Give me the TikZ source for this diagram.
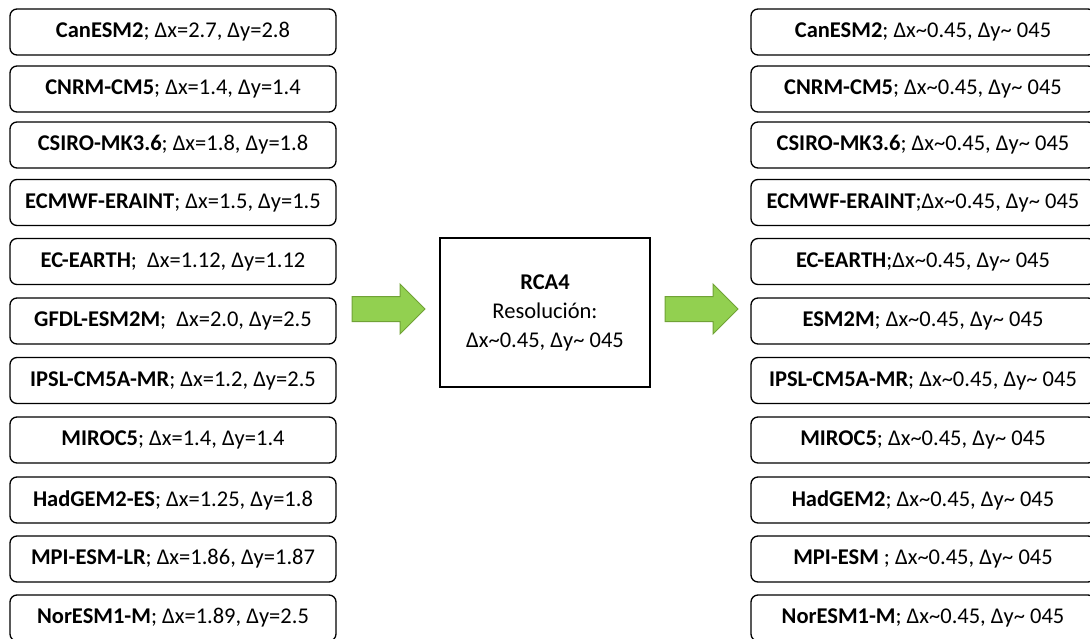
\documentclass[tikz,border=0pt]{standalone}
\usepackage{fontspec}
\setmainfont{Carlito}
\newcommand{\tld}{\char"007E\relax}
\definecolor{agreen}{HTML}{92D050}
\definecolor{agreenline}{HTML}{70A236}
\begin{document}
\begin{tikzpicture}[x=1pt,y=-1pt,
  box/.style={draw=black,line width=1.3pt,rounded corners=7pt,minimum height=46pt,inner sep=0pt,font=\fontsize{22.5}{27}\selectfont,text=black},
  lbox/.style={box,minimum width=326pt},
  rbox/.style={box,minimum width=344pt},
  cbox/.style={draw=black,line width=1.3pt,minimum width=210pt,minimum height=149pt,align=center,font=\fontsize{22.5}{29}\selectfont},
  blockarrow/.style={fill=agreen,draw=agreenline,line width=1pt,line join=miter}]
\useasboundingbox (0,0) rectangle (1090,639);
\clip (0,0) rectangle (1090,639);
% left column
\node[lbox] (l1) at (173,32) {\textbf{CanESM2}; Δx=2.7, Δy=2.8};
\node[lbox] (l2) at (173,89) {\textbf{CNRM-CM5}; Δx=1.4, Δy=1.4};
\node[lbox] (l3) at (173,145) {\textbf{CSIRO-MK3.6}; Δx=1.8, Δy=1.8};
\node[lbox] (l4) at (173,202.5) {\textbf{ECMWF-ERAINT}; Δx=1.5, Δy=1.5};
\node[lbox] (l5) at (173,261.5) {\textbf{EC-EARTH};\ \ Δx=1.12, Δy=1.12};
\node[lbox] (l6) at (173,321) {\textbf{GFDL-ESM2M};\ \ Δx=2.0, Δy=2.5};
\node[lbox] (l7) at (173,380.5) {\textbf{IPSL-CM5A-MR}; Δx=1.2, Δy=2.5};
\node[lbox] (l8) at (173,440) {\textbf{MIROC5}; Δx=1.4, Δy=1.4};
\node[lbox] (l9) at (173,500) {\textbf{HadGEM2-ES}; Δx=1.25, Δy=1.8};
\node[lbox] (l10) at (173,559) {\textbf{MPI-ESM-LR}; Δx=1.86, Δy=1.87};
\node[lbox] (l11) at (173,618) {\textbf{NorESM1-M}; Δx=1.89, Δy=2.5};
% right column
\node[rbox] (r1) at (923,32) {\textbf{CanESM2}; Δx\tld0.45, Δy\tld\ 045};
\node[rbox] (r2) at (923,89) {\textbf{CNRM-CM5}; Δx\tld0.45, Δy\tld\ 045};
\node[rbox] (r3) at (923,145) {\textbf{CSIRO-MK3.6}; Δx\tld0.45, Δy\tld\ 045};
\node[rbox] (r4) at (923,202.5) {\textbf{ECMWF-ERAINT};Δx\tld0.45, Δy\tld\ 045};
\node[rbox] (r5) at (923,261.5) {\textbf{EC-EARTH};Δx\tld0.45, Δy\tld\ 045};
\node[rbox] (r6) at (923,321) {\textbf{ESM2M}; Δx\tld0.45, Δy\tld\ 045};
\node[rbox] (r7) at (923,380.5) {\textbf{IPSL-CM5A-MR}; Δx\tld0.45, Δy\tld\ 045};
\node[rbox] (r8) at (923,440) {\textbf{MIROC5}; Δx\tld0.45, Δy\tld\ 045};
\node[rbox] (r9) at (923,500) {\textbf{HadGEM2}; Δx\tld0.45, Δy\tld\ 045};
\node[rbox] (r10) at (923,559) {\textbf{MPI-ESM} ; Δx\tld0.45, Δy\tld\ 045};
\node[rbox] (r11) at (923,618) {\textbf{NorESM1-M}; Δx\tld0.45, Δy\tld\ 045};
% centre
\node[cbox] (rca) at (545,312.5) {\textbf{RCA4}\\Resolución:\\Δx\tld0.45, Δy\tld\ 045};
% block arrows
\coordinate (a1) at (352,309);
\coordinate (a2) at (665,309);
\foreach \a in {a1,a2}{
  \draw[blockarrow] (\a) ++(0,-12.5) -- ++(48,0) -- ++(0,-12.5) -- ++(25,25) -- ++(-25,25) -- ++(0,-12.5) -- ++(-48,0) -- cycle;
}
\end{tikzpicture}
\end{document}
